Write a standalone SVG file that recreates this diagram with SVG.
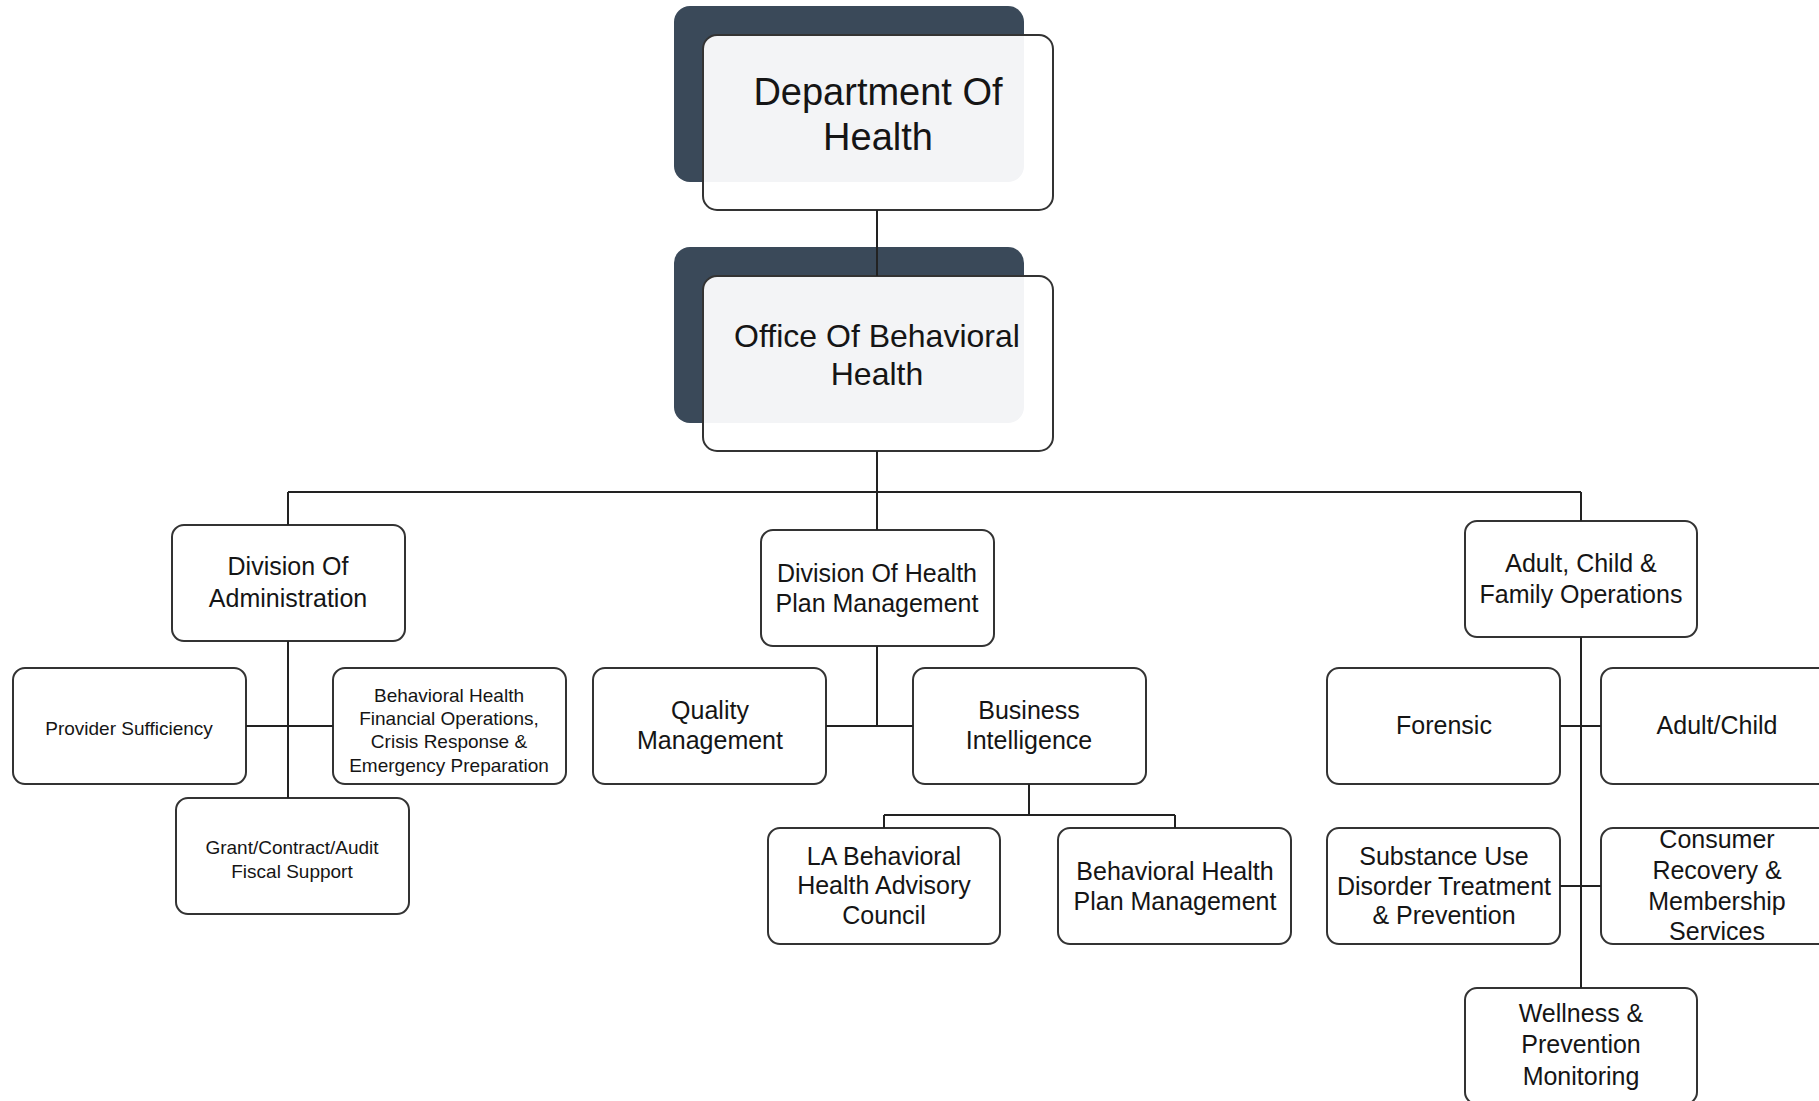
<svg xmlns="http://www.w3.org/2000/svg" width="1819" height="1101" viewBox="0 0 1819 1101">
<defs>
<style>
.bg{fill:#ffffff}
.shadow{fill:#3a4959}
.tint{fill:#f3f4f6}
.box{fill:#ffffff;stroke:#333333;stroke-width:2}
.frame{fill:none;stroke:#333333;stroke-width:2}
.conn{fill:none;stroke:#222222;stroke-width:2}
text{font-family:"Liberation Sans",Arial,sans-serif;fill:#151515;text-anchor:middle}
.t1{font-size:38px}
.t2{font-size:32px}
.t3{font-size:25px}
.t4{font-size:19px}
</style>
<clipPath id="clipDoH"><rect x="703" y="35" width="350" height="175" rx="14"/></clipPath>
<clipPath id="clipOBH"><rect x="703" y="276" width="350" height="175" rx="14"/></clipPath>
</defs>
<rect class="bg" x="0" y="0" width="1819" height="1101"/>

<g id="node-department-of-health">
<rect class="shadow" x="674" y="6" width="350" height="176" rx="16"/>
<rect class="box" x="703" y="35" width="350" height="175" rx="14" style="stroke:none"/>
<rect class="tint" x="674" y="6" width="350" height="176" rx="16" clip-path="url(#clipDoH)"/>
<rect class="frame" x="703" y="35" width="350" height="175" rx="14"/>
<text class="t1" x="878" y="105">Department Of</text>
<text class="t1" x="878" y="150">Health</text>
</g>

<g id="node-office-of-behavioral-health">
<rect class="shadow" x="674" y="247" width="350" height="176" rx="16"/>
<rect class="box" x="703" y="276" width="350" height="175" rx="14" style="stroke:none"/>
<rect class="tint" x="674" y="247" width="350" height="176" rx="16" clip-path="url(#clipOBH)"/>
<rect class="frame" x="703" y="276" width="350" height="175" rx="14"/>
<text class="t2" x="877" y="347">Office Of Behavioral</text>
<text class="t2" x="877" y="385">Health</text>
</g>

<g id="node-division-of-administration">
<rect class="box" x="172" y="525" width="233" height="116" rx="12"/>
<text class="t3" x="288" y="575">Division Of</text>
<text class="t3" x="288" y="607">Administration</text>
</g>

<g id="node-division-of-health-plan-management">
<rect class="box" x="761" y="530" width="233" height="116" rx="12"/>
<text class="t3" x="877" y="582">Division Of Health</text>
<text class="t3" x="877" y="612">Plan Management</text>
</g>

<g id="node-adult-child-family-operations">
<rect class="box" x="1465" y="521" width="232" height="116" rx="12"/>
<text class="t3" x="1581" y="572">Adult, Child &amp;</text>
<text class="t3" x="1581" y="603">Family Operations</text>
</g>

<g id="node-provider-sufficiency">
<rect class="box" x="13" y="668" width="233" height="116" rx="12"/>
<text class="t4" x="129" y="735">Provider Sufficiency</text>
</g>

<g id="node-bh-financial-operations">
<rect class="box" x="333" y="668" width="233" height="116" rx="12"/>
<text class="t4" x="449" y="702">Behavioral Health</text>
<text class="t4" x="449" y="725">Financial Operations,</text>
<text class="t4" x="449" y="748">Crisis Response &amp;</text>
<text class="t4" x="449" y="772">Emergency Preparation</text>
</g>

<g id="node-grant-contract-audit">
<rect class="box" x="176" y="798" width="233" height="116" rx="12"/>
<text class="t4" x="292" y="854">Grant/Contract/Audit</text>
<text class="t4" x="292" y="878">Fiscal Support</text>
</g>

<g id="node-quality-management">
<rect class="box" x="593" y="668" width="233" height="116" rx="12"/>
<text class="t3" x="710" y="719">Quality</text>
<text class="t3" x="710" y="749">Management</text>
</g>

<g id="node-business-intelligence">
<rect class="box" x="913" y="668" width="233" height="116" rx="12"/>
<text class="t3" x="1029" y="719">Business</text>
<text class="t3" x="1029" y="749">Intelligence</text>
</g>

<g id="node-la-bh-advisory-council">
<rect class="box" x="768" y="828" width="232" height="116" rx="12"/>
<text class="t3" x="884" y="865">LA Behavioral</text>
<text class="t3" x="884" y="894">Health Advisory</text>
<text class="t3" x="884" y="924">Council</text>
</g>

<g id="node-bh-plan-management">
<rect class="box" x="1058" y="828" width="233" height="116" rx="12"/>
<text class="t3" x="1175" y="880">Behavioral Health</text>
<text class="t3" x="1175" y="910">Plan Management</text>
</g>

<g id="node-forensic">
<rect class="box" x="1327" y="668" width="233" height="116" rx="12"/>
<text class="t3" x="1444" y="734">Forensic</text>
</g>

<g id="node-adult-child">
<rect class="box" x="1601" y="668" width="233" height="116" rx="12"/>
<text class="t3" x="1717" y="734">Adult/Child</text>
</g>

<g id="node-substance-use">
<rect class="box" x="1327" y="828" width="233" height="116" rx="12"/>
<text class="t3" x="1444" y="865">Substance Use</text>
<text class="t3" x="1444" y="895">Disorder Treatment</text>
<text class="t3" x="1444" y="924">&amp; Prevention</text>
</g>

<g id="node-consumer-recovery">
<rect class="box" x="1601" y="828" width="233" height="116" rx="12"/>
<text class="t3" x="1717" y="848">Consumer</text>
<text class="t3" x="1717" y="879">Recovery &amp;</text>
<text class="t3" x="1717" y="910">Membership</text>
<text class="t3" x="1717" y="940">Services</text>
</g>

<g id="node-wellness-prevention">
<rect class="box" x="1465" y="988" width="232" height="116" rx="12"/>
<text class="t3" x="1581" y="1022">Wellness &amp;</text>
<text class="t3" x="1581" y="1053">Prevention</text>
<text class="t3" x="1581" y="1085">Monitoring</text>
</g>

<g id="connectors">
<path class="conn" d="M877 210 V276"/>
<path class="conn" d="M877 451 V492"/>
<path class="conn" d="M288 492 H1581"/>
<path class="conn" d="M288 492 V525"/>
<path class="conn" d="M877 492 V530"/>
<path class="conn" d="M1581 492 V521"/>
<path class="conn" d="M288 641 V798"/>
<path class="conn" d="M246 726 H333"/>
<path class="conn" d="M877 646 V726"/>
<path class="conn" d="M826 726 H913"/>
<path class="conn" d="M1029 784 V815"/>
<path class="conn" d="M884 815 H1175"/>
<path class="conn" d="M884 815 V828"/>
<path class="conn" d="M1175 815 V828"/>
<path class="conn" d="M1581 637 V988"/>
<path class="conn" d="M1560 726 H1601"/>
<path class="conn" d="M1560 886 H1601"/>
</g>
</svg>
